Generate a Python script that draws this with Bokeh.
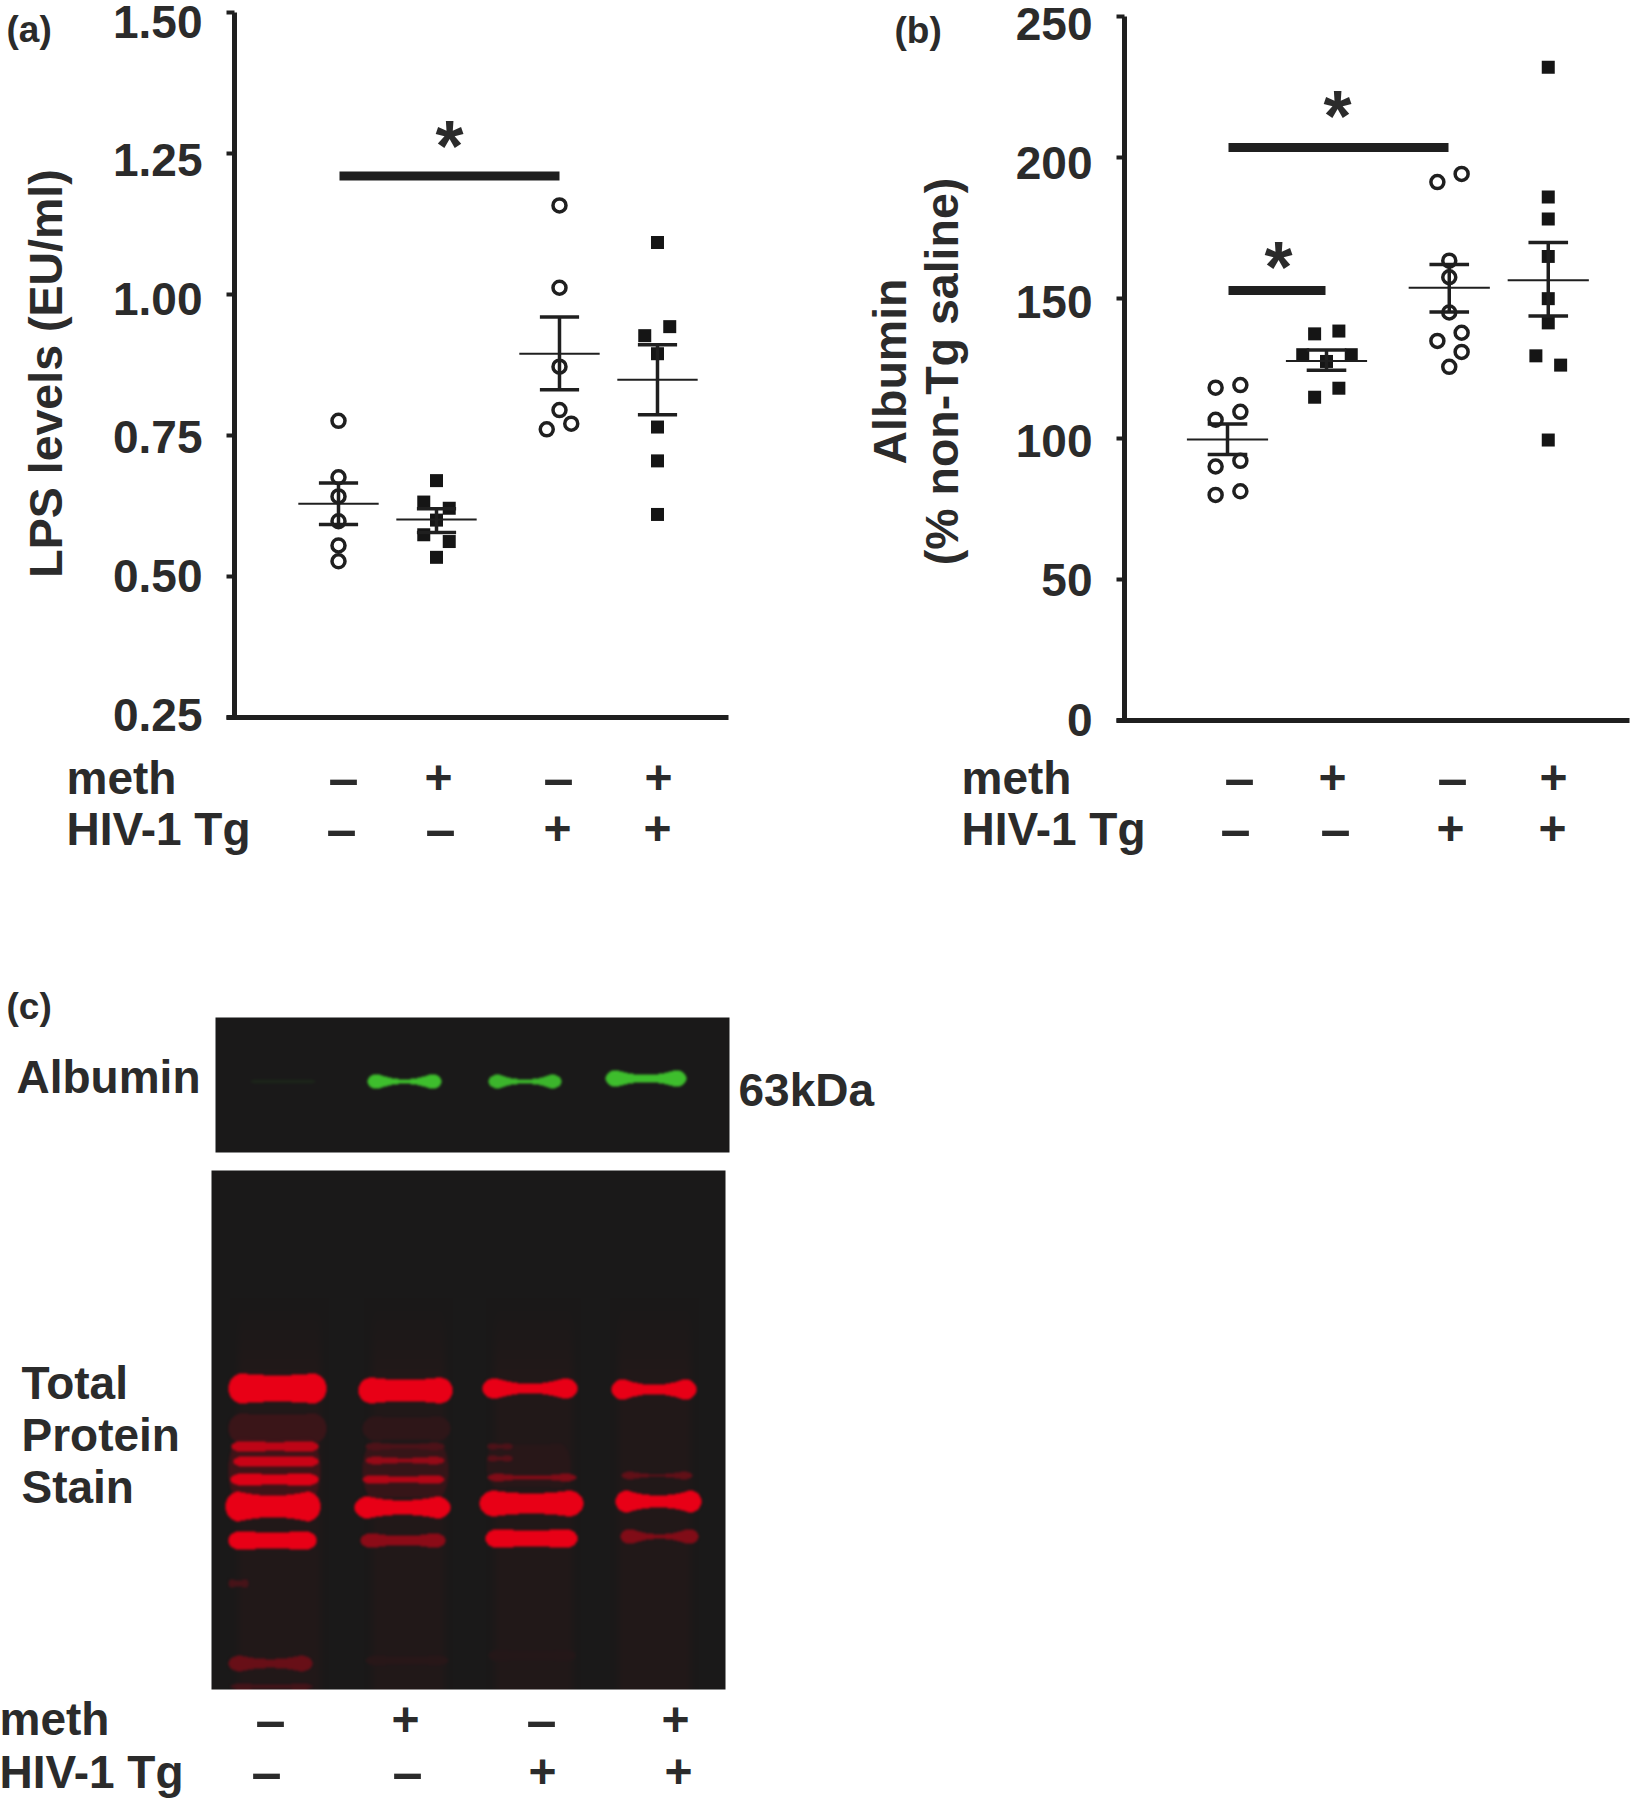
import numpy as np
from bokeh.plotting import figure
from bokeh.layouts import column, row
from bokeh.embed import file_html
from bokeh.resources import INLINE
from bokeh.models import Range1d, LinearAxis, FixedTicker, Label, CustomLabelingPolicy

FONT = "Liberation Sans"
INK = "#2b2b2b"
DARK = "#1f1f1f"

# ---------- panel (a) LPS levels ----------
a_lanes = [1, 2, 3.255, 4.255]
a_values = [
    [0.776, 0.676, 0.642, 0.598, 0.555, 0.527],
    [0.670, 0.632, 0.621, 0.600, 0.574, 0.562, 0.534],
    [1.158, 1.012, 0.872, 0.795, 0.761, 0.771],
    [1.092, 0.927, 0.943, 0.895, 0.765, 0.705, 0.610],
]
a_jitter = [
    [0, 0, 0, 0, 0, 0],
    [0, -0.13, 0.13, 0, -0.13, 0.13, 0],
    [0, 0, 0, 0, -0.13, 0.12],
    [0, -0.13, 0.125, 0, 0, 0, 0],
]
a_means = [0.629, 0.601, 0.895, 0.849]
a_err_lo = [0.592, 0.578, 0.831, 0.787]
a_err_hi = [0.666, 0.620, 0.960, 0.911]
a_ticks = [0.25, 0.50, 0.75, 1.00, 1.25, 1.50]

# ---------- panel (b) Albumin ----------
b_lanes = [1, 2, 3.24, 4.24]
b_values = [
    [118.2, 119.1, 106.8, 109.6, 90.2, 92.2, 80.1, 81.4],
    [137.3, 138.3, 129.9, 129.9, 127.5, 118.0, 114.8],
    [194.1, 191.2, 163.3, 157.4, 144.9, 137.7, 134.8, 130.9, 125.6],
    [232.0, 185.9, 178.1, 164.8, 149.8, 141.2, 129.5, 126.2, 99.6],
]
b_jitter = [
    [-0.12, 0.13, -0.12, 0.13, -0.12, 0.13, -0.12, 0.13],
    [-0.12, 0.125, -0.24, 0.25, 0, 0.125, -0.12],
    [0.125, -0.12, 0, 0, 0, 0.125, -0.12, 0.125, 0],
    [0, 0, 0, 0, 0, 0, -0.125, 0.125, 0],
]
b_means = [99.8, 127.7, 153.7, 156.3]
b_err_lo = [94.5, 124.4, 145.1, 143.6]
b_err_hi = [105.3, 131.6, 161.9, 169.7]
b_ticks = [0, 50, 100, 150, 200, 250]

meth_signs = ["–", "+", "–", "+"]
tg_signs = ["–", "–", "+", "+"]
sign_size = {"–": 54, "+": 48}

# ---------- panel (c) blots: left, right, centre y, half thickness, waist, intensity ----------
green_bands = [
    (250, 315, 1081, 2.5, 0.8, 0.07),
    (367, 441, 1081, 7.5, 0.3, 1.0),
    (488, 561, 1081, 7, 0.3, 0.95),
    (605, 686, 1078, 8.5, 0.42, 1.0),
]
red_bands = [
    (228, 326, 1428, 15, 0.9, 0.16), (362, 450, 1428, 12, 0.9, 0.1),
    (228, 320, 1470, 32, 0.95, 0.18), (362, 448, 1470, 28, 0.95, 0.14), (486, 570, 1465, 22, 0.95, 0.07),
    (228, 326, 1388, 15, 0.88, 1.0), (358, 452, 1390, 13, 0.82, 1.0),
    (482, 577, 1388, 10.5, 0.45, 1.0), (611, 696, 1389, 10.5, 0.45, 1.0),
    (231, 318, 1446, 5.5, 0.8, 0.8), (233, 318, 1461, 5.5, 0.85, 0.85), (230, 318, 1479, 6, 0.9, 0.95),
    (365, 444, 1446, 4, 0.5, 0.25), (365, 444, 1460, 4, 0.6, 0.6), (362, 444, 1479, 4.5, 0.7, 0.75),
    (487, 512, 1446, 3, 0.8, 0.25), (487, 512, 1458, 3, 0.8, 0.3), (487, 576, 1477, 4, 0.4, 0.5),
    (621, 692, 1475, 4, 0.3, 0.35),
    (225, 320, 1506, 15, 0.72, 1.0), (354, 450, 1507, 11, 0.65, 1.0),
    (479, 583, 1503, 13, 0.78, 1.0), (615, 701, 1501, 11, 0.55, 1.0),
    (228, 316, 1540, 9.5, 0.85, 1.0), (360, 445, 1540, 7.5, 0.6, 0.55),
    (485, 577, 1538, 9.5, 0.85, 1.0), (620, 698, 1536, 7.5, 0.3, 0.5),
    (228, 312, 1663, 8, 0.55, 0.38), (228, 248, 1583, 4, 0.8, 0.22), (230, 312, 1686, 3, 0.7, 0.2),
    (365, 448, 1660, 5, 0.8, 0.07), (488, 575, 1655, 6, 0.8, 0.05),
]
red_lane_haze = [(232, 326), (366, 450), (488, 578), (612, 696)]


class Panel:
    """A figure whose frame fills it; the axes sit at fixed places inside that frame."""

    def __init__(self, width, height, lane_px0, lane_step, y_lo, y_hi, py_lo, py_hi):
        self.lane_px0, self.lane_step = lane_px0, lane_step
        self.y_lo, self.y_hi, self.py_lo, self.py_hi = y_lo, y_hi, py_lo, py_hi
        self.height = height
        self.fig = figure(width=width, height=height,
                          x_range=Range1d(self.x(0), self.x(width)),
                          y_range=Range1d(self.y(height), self.y(0)),
                          output_backend="svg", toolbar_location=None,
                          min_border_left=0, min_border_right=0, min_border_top=0, min_border_bottom=0)
        self.fig.outline_line_color = None
        self.fig.grid.visible = False

    def x(self, px):
        return 1 + (px - self.lane_px0) / self.lane_step

    def y(self, py):
        return self.y_lo + (self.py_lo - py) * (self.y_hi - self.y_lo) / (self.py_lo - self.py_hi)

    def axes(self, px_left, px_right, ticks, fmt, axis_label, standoff, off_lo, off_hi,
             line_height=1.2, label_bound_lo=None):
        p = self.fig
        xa = p.xaxis[0]
        xa.ticker = FixedTicker(ticks=[])
        xa.fixed_location = self.y_lo
        xa.bounds = (self.x(px_left - 8), self.x(px_right))
        xa.axis_line_width = 5
        xa.axis_line_color = DARK
        xa.major_tick_line_color = None
        xa.minor_tick_line_color = None

        ya = p.yaxis[0]
        ya.ticker = FixedTicker(ticks=ticks)
        ya.fixed_location = self.x(px_left)
        ya.bounds = (self.y_lo, self.y_hi)
        ya.axis_line_width = 5
        ya.axis_line_color = DARK
        ya.major_tick_line_width = 4
        ya.major_tick_line_color = DARK
        ya.major_tick_in = 0
        ya.major_tick_out = 8
        ya.minor_tick_line_color = None
        ya.major_label_overrides = {t: "" for t in ticks}
        ya.major_label_policy = CustomLabelingPolicy(
            code="for (const i of [...indices]) { indices.unset(i) }; return indices")

        # the printed numbers sit a little off their ticks: a second axis carries them
        p1, p2 = self.py_lo + off_lo, self.py_hi + off_hi
        slope = (self.y_hi - self.y_lo) / (p1 - p2)
        lab_y = lambda py: self.y_lo + (p1 - py) * slope
        p.extra_y_ranges = {"lab": Range1d(lab_y(self.height), lab_y(0))}
        lo_bound = self.y_lo if label_bound_lo is None else label_bound_lo
        lab = LinearAxis(y_range_name="lab", ticker=FixedTicker(ticks=ticks), bounds=(lo_bound, self.y_hi))
        lab.fixed_location = self.x(px_left - 8)
        lab.axis_line_color = None
        lab.major_tick_line_color = None
        lab.minor_tick_line_color = None
        lab.major_tick_out = 0
        lab.major_tick_in = 0
        lab.major_label_overrides = {t: fmt % t for t in ticks}
        lab.major_label_text_font = FONT
        lab.major_label_text_font_style = "bold"
        lab.major_label_text_font_size = "46px"
        lab.major_label_text_color = INK
        lab.major_label_standoff = 24
        lab.axis_label = axis_label
        lab.axis_label_text_font = FONT
        lab.axis_label_text_font_style = "bold"
        lab.axis_label_text_font_size = "46.5px"
        lab.axis_label_text_color = INK
        lab.axis_label_standoff = standoff
        lab.axis_label_text_line_height = line_height
        p.add_layout(lab, "left")

    def marks(self, lanes, values, jitter, means, lo, hi, open_groups, mean_w=0.41, cap_w=0.2):
        p = self.fig
        for g, (lx, vals, jit) in enumerate(zip(lanes, values, jitter)):
            xs = [lx + j for j in jit]
            if g in open_groups:
                p.scatter(xs, vals, marker="circle", size=13, fill_color=None, line_color=DARK, line_width=3.5)
            else:
                p.scatter(xs, vals, marker="square", size=13, fill_color="#151515", line_color="#151515", line_width=0)
        lx = np.array(lanes)
        p.segment(lx - mean_w, means, lx + mean_w, means, line_color=DARK, line_width=2)
        p.segment(lx, lo, lx, hi, line_color=DARK, line_width=3.5)
        p.segment(lx - cap_w, lo, lx + cap_w, lo, line_color=DARK, line_width=3.5)
        p.segment(lx - cap_w, hi, lx + cap_w, hi, line_color=DARK, line_width=3.5)

    def label(self, px, py, text, size=46, align="left"):
        add_label(self.fig, self.x(px), self.y(py), text, size, align)

    def signs(self, meth_px, tg_px, meth_py, tg_py):
        for px, s in zip(meth_px, meth_signs):
            self.label(px, meth_py, s, sign_size[s], "center")
        for px, s in zip(tg_px, tg_signs):
            self.label(px, tg_py, s, sign_size[s], "center")


def add_label(p, x, y, text, size=46, align="left"):
    p.add_layout(Label(x=x, y=y, text=text, text_font=FONT, text_font_style="bold",
                       text_font_size=f"{size}px", text_color=INK,
                       text_align=align, text_baseline="middle"))


# ---------- (a) ----------
A = Panel(860, 880, 338, 98, 0.25, 1.5, 717, 12)
A.axes(234, 728, a_ticks, "%.2f", "LPS levels (EU/ml)", 38, -3, 9, label_bound_lo=0.23)
A.marks(a_lanes, a_values, a_jitter, a_means, a_err_lo, a_err_hi, {0, 2})
A.fig.segment([A.x(339)], [1.21], [A.x(559)], [1.21], line_color=DARK, line_width=9)
A.label(449, 145, "*", 72, "center")
A.label(6, 29, "(a)", 37)
A.label(66, 777, "meth")
A.label(66, 828, "HIV-1 Tg")
A.signs([343, 438, 558, 658], [341, 440, 557, 657], 777, 828)

# ---------- (b): x measured from the left of this figure (page x - 860) ----------
B = Panel(776, 880, 367, 99, 0, 250, 720, 16)
B.axes(264, 769, b_ticks, "%d", "Albumin\n(% non-Tg saline)", 45, -1, 7, 1.0)
B.marks(b_lanes, b_values, b_jitter, b_means, b_err_lo, b_err_hi, {0, 2})
B.fig.segment([B.x(368), B.x(368)], [203.5, 152.7], [B.x(588), B.x(465)], [203.5, 152.7],
              line_color=DARK, line_width=9)
B.label(477, 115, "*", 72, "center")
B.label(418, 266, "*", 72, "center")
B.label(34, 30, "(b)", 37)
B.label(101, 777, "meth")
B.label(101, 828, "HIV-1 Tg")
B.signs([379, 472, 592, 693], [375, 475, 590, 692], 777, 828)


# ---------- (c) ----------
def blur(a, r=2, passes=2):
    k = np.ones(2 * r + 1) / (2 * r + 1)
    for _ in range(passes):
        a = np.apply_along_axis(lambda v: np.convolve(np.pad(v, r, mode="edge"), k, mode="valid"), 0, a)
        a = np.apply_along_axis(lambda v: np.convolve(np.pad(v, r, mode="edge"), k, mode="valid"), 1, a)
    return a


def blot(x0, x1, y0, y1, bands, color, haze=None):
    w, h = x1 - x0, y1 - y0
    X, Y = np.meshgrid(np.arange(x0, x1) + 0.5, np.arange(y0, y1) + 0.5)
    bg = np.array([26.0, 25.0, 25.0])
    sig = np.zeros((h, w))
    if haze:
        for lx0, lx1 in haze:
            m = np.clip((X - lx0) / 10, 0, 1) * np.clip((lx1 - X) / 10, 0, 1)
            m = m * np.clip((Y - 1300) / 70, 0, 1) * 0.035
            sig = np.maximum(sig, m)
    for bx0, bx1, yc, half, waist, amp in bands:
        xc = (bx0 + bx1) / 2
        u = np.clip(np.abs(X - xc) / ((bx1 - bx0) / 2), 0, 1.0)
        rise = np.minimum(u / 0.72, 1.0)
        tip = np.sqrt(np.clip(1 - (np.clip(u - 0.72, 0, None) / 0.28) ** 2, 0, 1))
        hw = half * (waist + (1 - waist) * rise ** 2) * tip
        inside = (np.abs(X - xc) < (bx1 - bx0) / 2) & (np.abs(Y - yc) <= hw)
        sig = np.maximum(sig, inside * amp)
    sig = blur(sig, 1, 2)
    col = np.array(color, dtype=float)
    rgb = bg[None, None, :] * (1 - sig[..., None]) + col[None, None, :] * sig[..., None]
    img = np.zeros((h, w), dtype=np.uint32)
    view = img.view(dtype=np.uint8).reshape((h, w, 4))
    view[..., :3] = np.clip(rgb, 0, 255).astype(np.uint8)
    view[..., 3] = 255
    return np.flipud(img)


C_H = 920
pc = figure(width=1636, height=C_H, x_range=Range1d(0, 1636), y_range=Range1d(0, C_H),
            output_backend="svg", toolbar_location=None,
            min_border_left=0, min_border_right=0, min_border_top=0, min_border_bottom=0)
pc.axis.visible = False
pc.grid.visible = False
pc.outline_line_color = None
cy = lambda py: 1800 - py

pc.image_rgba(image=[blot(215, 729, 1017, 1152, green_bands, (62, 190, 45))],
              x=215, y=cy(1152), dw=514, dh=135)
pc.image_rgba(image=[blot(211, 725, 1170, 1689, red_bands, (232, 0, 22), red_lane_haze)],
              x=211, y=cy(1689), dw=514, dh=519)

add_label(pc, 6, cy(1006), "(c)", 37)
add_label(pc, 16, cy(1076), "Albumin")
add_label(pc, 738, cy(1089), "63kDa")
add_label(pc, 21, cy(1382), "Total")
add_label(pc, 21, cy(1434), "Protein")
add_label(pc, 21, cy(1486), "Stain")
add_label(pc, -1, cy(1718), "meth")
add_label(pc, -1, cy(1771), "HIV-1 Tg")
for px, s in zip([270, 405, 541, 675], meth_signs):
    add_label(pc, px, cy(1719), s, sign_size[s], "center")
for px, s in zip([266, 407, 542, 678], tg_signs):
    add_label(pc, px, cy(1771), s, sign_size[s], "center")

root = column(row(A.fig, B.fig), pc)
root.styles = {"position": "absolute", "left": "0px", "top": "0px"}
open("out.html", "w").write(file_html(root, INLINE))
